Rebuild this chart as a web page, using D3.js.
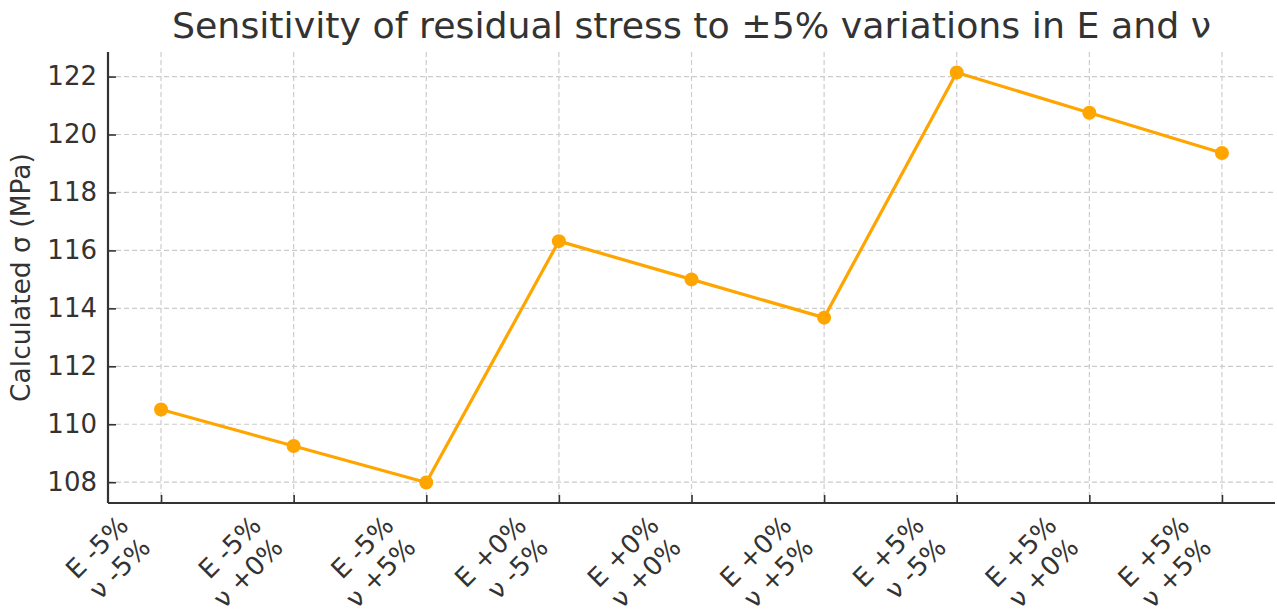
<!DOCTYPE html>
<html>
<head>
<meta charset="utf-8">
<script src="https://cdn.jsdelivr.net/npm/d3@7"></script>
<style>
  body { margin: 0; background: #fff; }
  svg { display: block; font-family: 'DejaVu Sans', sans-serif; }
</style>
</head>
<body>
<div id="chart"></div>
<script>
// values
const eLabels = ['E -5%', 'E -5%', 'E -5%', 'E +0%', 'E +0%', 'E +0%', 'E +5%', 'E +5%', 'E +5%'];
const nuLabels = ['ν -5%', 'ν +0%', 'ν +5%', 'ν -5%', 'ν +0%', 'ν +5%', 'ν -5%', 'ν +0%', 'ν +5%'];
const sigmaValues = [110.51, 109.25, 107.99, 116.32, 115.00, 113.68, 122.14, 120.75, 119.36];
const yTicks = [108, 110, 112, 114, 116, 118, 120, 122];

const W = 1277, H = 610;
const margin = { top: 52, right: 2, bottom: 107, left: 108 };
const width = W - margin.left - margin.right;
const height = H - margin.top - margin.bottom;
const textColor = '#333333';
const lineColor = '#FFA500';

const svg = d3.select('#chart').append('svg')
  .attr('width', W)
  .attr('height', H);

const g = svg.append('g')
  .attr('transform', `translate(${margin.left},${margin.top})`);

const idx = d3.range(sigmaValues.length);

// matplotlib-like padding: 0.4 of a step on x, 5% on y
const x = d3.scaleLinear()
  .domain([-0.4, sigmaValues.length - 1 + 0.4])
  .range([0, width]);

const yMin = d3.min(sigmaValues), yMax = d3.max(sigmaValues);
const pad = (yMax - yMin) * 0.05;
const y = d3.scaleLinear()
  .domain([yMin - pad, yMax + pad])
  .range([height, 0]);

// grid
g.append('g')
  .selectAll('line')
  .data(yTicks)
  .enter().append('line')
  .attr('x1', 0).attr('x2', width)
  .attr('y1', d => y(d)).attr('y2', d => y(d))
  .attr('stroke', '#cccccc')
  .attr('stroke-width', 1.2)
  .attr('stroke-dasharray', '5,3');

g.append('g')
  .selectAll('line')
  .data(idx)
  .enter().append('line')
  .attr('x1', d => x(d)).attr('x2', d => x(d))
  .attr('y1', 0).attr('y2', height)
  .attr('stroke', '#cccccc')
  .attr('stroke-width', 1.2)
  .attr('stroke-dasharray', '5,3');

// axes (ticks pointing inward)
const yAxis = g.append('g')
  .call(d3.axisLeft(y).tickValues(yTicks).tickSize(-8).tickPadding(11).tickFormat(d3.format('d')));
yAxis.select('.domain').remove();
yAxis.selectAll('.tick line').attr('stroke', textColor).attr('stroke-width', 1.6);
yAxis.selectAll('.tick text')
  .attr('fill', textColor)
  .style('font-size', '26px')
  .style('font-family', "'DejaVu Sans', sans-serif");

const xAxis = g.append('g')
  .attr('transform', `translate(0,${height})`)
  .call(d3.axisBottom(x).tickValues(idx).tickSize(-8).tickFormat(''));
xAxis.select('.domain').remove();
xAxis.selectAll('.tick line').attr('stroke', textColor).attr('stroke-width', 1.6);

// spines: left and bottom only
g.append('line')
  .attr('x1', 0).attr('x2', 0).attr('y1', 0).attr('y2', height)
  .attr('stroke', textColor).attr('stroke-width', 2.2);
g.append('line')
  .attr('x1', 0).attr('x2', width).attr('y1', height).attr('y2', height)
  .attr('stroke', textColor).attr('stroke-width', 2.2);

// rotated two-line x labels, right-aligned, ending just left of the tick
const fs = 26, lh = 31;
const labelG = g.append('g');
idx.forEach(i => {
  const t = labelG.append('text')
    .attr('transform', `translate(${x(i) - 31},${height + 24}) rotate(-45)`)
    .attr('text-anchor', 'end')
    .attr('fill', textColor)
    .style('font-size', fs + 'px');
  t.append('tspan').attr('x', 0).attr('y', 0).text(eLabels[i]);
  t.append('tspan').attr('x', 0).attr('y', lh).text(nuLabels[i]);
});

// line + markers
const line = d3.line()
  .x((d, i) => x(i))
  .y(d => y(d));

g.append('path')
  .datum(sigmaValues)
  .attr('fill', 'none')
  .attr('stroke', lineColor)
  .attr('stroke-width', 3.2)
  .attr('stroke-linejoin', 'round')
  .attr('d', line);

g.selectAll('.dot')
  .data(sigmaValues)
  .enter().append('circle')
  .attr('class', 'dot')
  .attr('cx', (d, i) => x(i))
  .attr('cy', d => y(d))
  .attr('r', 7)
  .attr('fill', lineColor);

// y label
svg.append('text')
  .attr('transform', `translate(30,${margin.top + height / 2}) rotate(-90)`)
  .attr('text-anchor', 'middle')
  .attr('fill', textColor)
  .style('font-size', '26.5px')
  .text('Calculated σ (MPa)');

// title
svg.append('text')
  .attr('x', margin.left + width / 2)
  .attr('y', 38)
  .attr('text-anchor', 'middle')
  .attr('fill', textColor)
  .style('font-size', '36.3px')
  .text('Sensitivity of residual stress to ±5% variations in E and ν');
</script>
</body>
</html>
